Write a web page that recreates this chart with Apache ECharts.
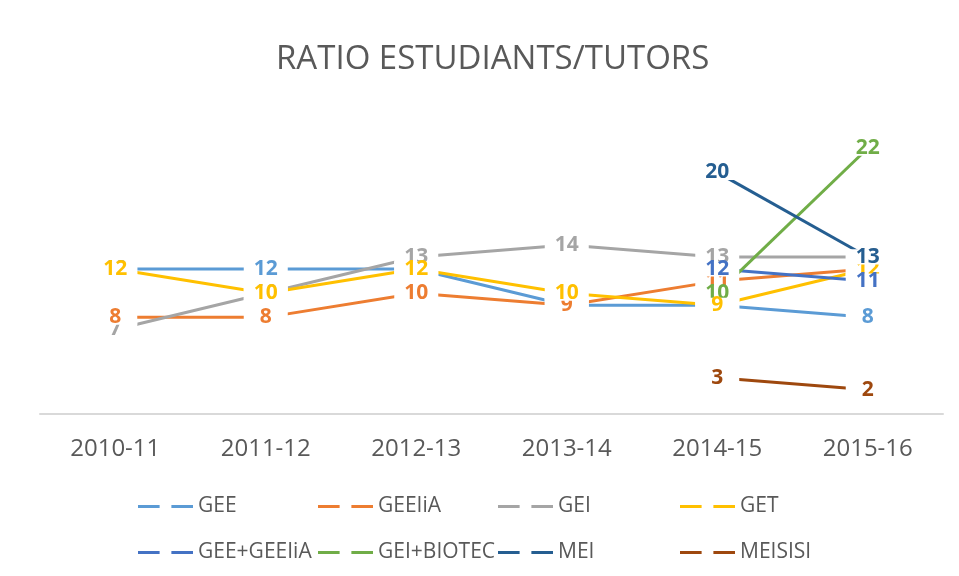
<!DOCTYPE html>
<html>
<head>
<meta charset="utf-8">
<title>Ratio estudiants/tutors</title>
<script src="https://cdn.jsdelivr.net/npm/echarts@6/dist/echarts.min.js"></script>
<style>
  html, body { margin: 0; padding: 0; background: #fff; }
  #chart { width: 959px; height: 576px; }
</style>
</head>
<body>
<div id="chart"></div>
<script>
const categories = ["2010-11", "2011-12", "2012-13", "2013-14", "2014-15", "2015-16"];

const gee = [12, 12, 12, 9, 9, 8];
const geeiia = [8, 8, 10, 9, 11, 12];
const gei = [7, 10, 13, 14, 13, 13];
const get = [12, 10, 12, 10, 9, 12];
const geeGeeiia = [null, null, null, null, 12, 11];
const geiBiotec = [null, null, null, null, 10, 22];
const mei = [null, null, null, null, 20, 13];
const meisisi = [null, null, null, null, 3, 2];

// Office palette
const COLORS = ["#5B9BD5", "#ED7D31", "#A5A5A5", "#FFC000", "#4472C4", "#70AD47", "#255E91", "#9E480E"];
const TEXT = "#595959";
const FONT = "'Open Sans', sans-serif";

const seriesDefs = [
  { name: "GEE", data: gee },
  { name: "GEEIiA", data: geeiia },
  { name: "GEI", data: gei },
  { name: "GET", data: get },
  { name: "GEE+GEEIiA", data: geeGeeiia },
  { name: "GEI+BIOTEC", data: geiBiotec },
  { name: "MEI", data: mei },
  { name: "MEISISI", data: meisisi },
];

// stacking order of the label boxes as seen in the original
const LABEL_ORDER = [0, 2, 1, 5, 3, 4, 6, 7];

// lines first, then the labels on top (white box hides the line near each point)
const lineSeries = seriesDefs.map((s, i) => ({
  name: s.name,
  type: "line",
  data: s.data,
  z: 2,
  symbol: "none",
  lineStyle: { color: COLORS[i], width: 3, cap: "butt" },
  itemStyle: { color: COLORS[i] },
  emphasis: { disabled: true },
}));

const labelSeries = LABEL_ORDER.map((i) => ({
  name: seriesDefs[i].name,
  type: "scatter",
  data: seriesDefs[i].data,
  z: 3,
  silent: true,
  symbolSize: 0,
  itemStyle: { color: COLORS[i], opacity: 1 },
  emphasis: { disabled: true },
  label: {
    show: true,
    position: "inside",
    color: COLORS[i],
    opacity: 1,
    fontFamily: FONT,
    fontWeight: "bold",
    fontSize: 21,
    width: 44,
    height: 15,
    lineHeight: 15,
    align: "center",
    verticalAlign: "middle",
    backgroundColor: "#ffffff",
  },
}));

const DASH_ICON = "path://M0,0h22v3h-22z M34,0h22v3h-22z";
const legendCols = [
  { left: 133, data: ["GEE", "GEE+GEEIiA"] },
  { left: 313, data: ["GEEIiA", "GEI+BIOTEC"] },
  { left: 493, data: ["GEI", "MEI"] },
  { left: 675, data: ["GET", "MEISISI"] },
];

const chart = echarts.init(document.getElementById("chart"), null, { renderer: "canvas" });

chart.setOption({
  animation: false,
  color: COLORS,
  title: {
    text: "RATIO ESTUDIANTS/TUTORS",
    left: 271,
    top: 38,
    textStyle: { color: TEXT, fontFamily: FONT, fontWeight: "normal", fontSize: 33 },
  },
  legend: legendCols.map((c) => ({
    orient: "vertical",
    left: c.left,
    top: 491,
    itemGap: 25,
    itemWidth: 55,
    itemHeight: 3,
    icon: DASH_ICON,
    data: c.data,
    textStyle: { color: TEXT, fontFamily: FONT, fontSize: 21 },
  })),
  grid: { left: 40, right: 16, top: 112, bottom: 162 },
  xAxis: {
    type: "category",
    data: categories,
    boundaryGap: true,
    axisLine: { lineStyle: { color: "#d9d9d9", width: 2 } },
    axisTick: { show: false },
    axisLabel: { color: TEXT, fontFamily: FONT, fontSize: 24, margin: 23 },
  },
  yAxis: {
    type: "value",
    min: 0,
    max: 25,
    interval: 5,
    show: false,
    splitLine: { show: false },
  },
  series: [...lineSeries, ...labelSeries],
});

window.addEventListener("resize", () => chart.resize());
</script>
</body>
</html>
